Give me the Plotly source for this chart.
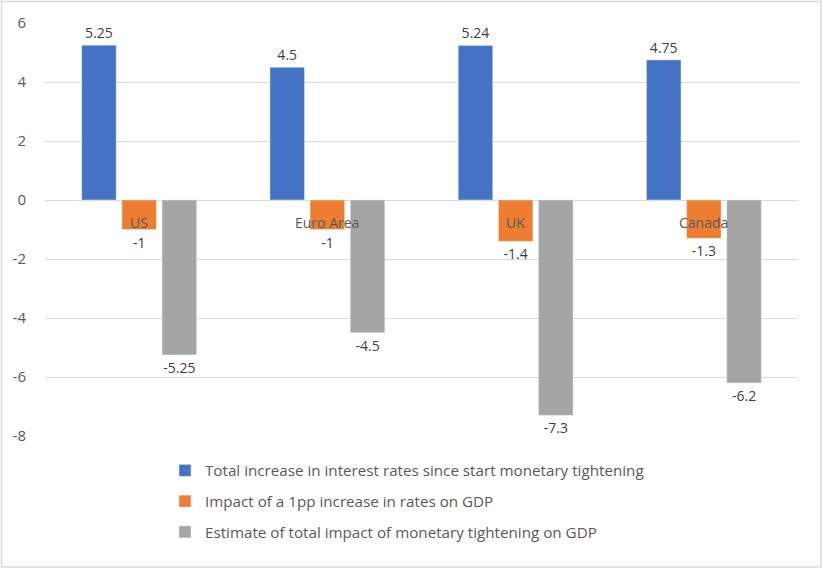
import plotly.graph_objects as go

categories = ["US", "Euro Area", "UK", "Canada"]
rate_increase = [5.25, 4.5, 5.24, 4.75]
impact_1pp = [-1, -1, -1.4, -1.3]
total_impact = [-5.25, -4.5, -7.3, -6.2]
series_names = [
    "Total increase in interest rates since start monetary tightening",
    "Impact of a 1pp increase in rates on GDP",
    "Estimate of total impact of monetary tightening on GDP",
]
colors = ["#4472C4", "#ED7D31", "#A5A5A5"]
y_ticks = [-8, -6, -4, -2, 0, 2, 4, 6]
y_tick_labels = ["-8", "-6", "-4", "-2", "0", "2", "4", "6"]

W, H = 823, 570
ml, mr, mt, mb = 45, 25, 23, 134
pw, ph = W - ml - mr, H - mt - mb
FONT = "Open Sans, Lato, sans-serif"

fig = go.Figure()
for i, (name, vals, col) in enumerate(zip(series_names, [rate_increase, impact_1pp, total_impact], colors)):
    fig.add_trace(go.Bar(
        x=categories, y=vals, name=name, marker_color=col, legendgroup=f"g{i}",
        text=[f"{v:g}" for v in vals], textposition="outside",
        textfont=dict(size=14, color="#404040"), cliponaxis=False,
    ))

for c in categories:
    fig.add_annotation(x=c, y=0, text=c, showarrow=False, yanchor="middle",
                       yshift=-22, font=dict(size=14, color="#595959"))

def px_x(p):
    return (p - ml) / pw

def px_y(p):
    return (H - mb - p) / ph

fig.add_shape(type="rect", xref="paper", yref="paper",
              x0=px_x(1.5), x1=px_x(821), y0=px_y(1.5), y1=px_y(567),
              line=dict(color="#D9D9D9", width=1.5), layer="below")

fig.update_layout(
    width=W, height=H,
    margin=dict(l=ml, r=mr, t=mt, b=mb, autoexpand=False),
    plot_bgcolor="white", paper_bgcolor="white",
    font=dict(family=FONT, color="#595959", size=14),
    barmode="group", bargap=0.36, bargroupgap=0.14,
    showlegend=True,
    legend=dict(orientation="v", x=px_x(165), xanchor="left", y=px_y(454), yanchor="top",
                font=dict(size=15.2, color="#595959", family=FONT), tracegroupgap=8,
                itemwidth=30, bgcolor="rgba(0,0,0,0)"),
    xaxis=dict(showticklabels=False, showgrid=False, zeroline=False, showline=False, ticks=""),
    yaxis=dict(range=[-8, 6], tickvals=y_ticks, ticktext=y_tick_labels, showgrid=True,
               gridcolor="#D9D9D9", gridwidth=1, zeroline=True, zerolinecolor="#D9D9D9",
               zerolinewidth=1, tickfont=dict(size=15, color="#595959", family=FONT),
               ticks="", ticklabelstandoff=18),
)

fig.write_html("out.html", config={"displayModeBar": False},
               post_script="document.body.style.margin='0';")
